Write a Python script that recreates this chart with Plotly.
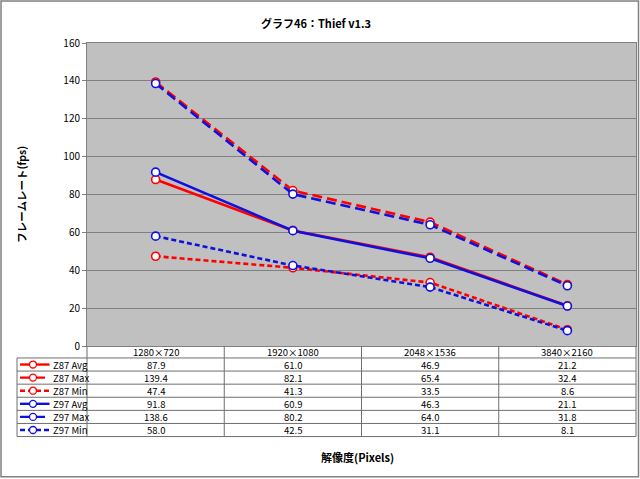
import plotly.graph_objects as go

categories = ["1280×720", "1920×1080", "2048×1536", "3840×2160"]
series_names = ["Z87 Avg", "Z87 Max", "Z87 Min", "Z97 Avg", "Z97 Max", "Z97 Min"]
z87_avg = [87.9, 61.0, 46.9, 21.2]
z87_max = [139.4, 82.1, 65.4, 32.4]
z87_min = [47.4, 41.3, 33.5, 8.6]
z97_avg = [91.8, 60.9, 46.3, 21.1]
z97_max = [138.6, 80.2, 64.0, 31.8]
z97_min = [58.0, 42.5, 31.1, 8.1]
series_values = [z87_avg, z87_max, z87_min, z97_avg, z97_max, z97_min]
title_text = "<b>グラフ46：Thief v1.3</b>"
y_title = "<b>フレームレート(fps)</b>"
x_title = "<b>解像度(Pixels)</b>"

RED = "#FF0000"
BLUE = "#1010DD"
colors = [RED, RED, RED, BLUE, BLUE, BLUE]
dashes = ["solid", "10px,5px", "5px,3px", "solid", "10px,5px", "5px,3px"]

W, H = 640, 479
L, R, T, B = 87, 636, 43, 346.5
FONT = "Noto Sans CJK JP"


def px(x):
    return (x - L) / (R - L)


def py(y):
    return (B - y) / (B - T)


fig = go.Figure()
for name, vals, c, d in zip(series_names, series_values, colors, dashes):
    fig.add_trace(go.Scatter(
        x=list(range(len(categories))), y=vals, name=name, mode="lines+markers",
        line=dict(color=c, width=2.6, dash=d),
        marker=dict(symbol="circle", size=8, color="white", line=dict(color=c, width=1.6)),
        cliponaxis=False,
    ))

shapes = []
annotations = []

# outer chart border
shapes.append(dict(type="rect", xref="paper", yref="paper", x0=px(1), x1=px(638.5),
                   y0=py(1), y1=py(477.5), line=dict(color="#808080", width=1.5), layer="below"))

# data table
row_h = (437.2 - 358.5) / 6
header_top, header_bot = B, 358.5
table_bot = header_bot + 6 * row_h
line_c = "#6f6f6f"
shapes.append(dict(type="rect", xref="paper", yref="paper", x0=px(17), x1=px(R),
                   y0=py(header_bot), y1=py(table_bot), fillcolor="white",
                   line=dict(width=0), layer="below"))
for i in range(7):
    yy = header_bot + i * row_h
    shapes.append(dict(type="line", xref="paper", yref="paper", x0=px(17), x1=px(R),
                       y0=py(yy), y1=py(yy), line=dict(color=line_c, width=1)))
ncat = len(categories)
for k in range(ncat + 1):
    xx = L + k * (R - L) / ncat
    shapes.append(dict(type="line", xref="paper", yref="paper", x0=px(xx), x1=px(xx),
                       y0=py(header_top), y1=py(table_bot), line=dict(color=line_c, width=1)))
shapes.append(dict(type="line", xref="paper", yref="paper", x0=px(17), x1=px(17),
                   y0=py(header_bot), y1=py(table_bot), line=dict(color=line_c, width=1)))

cell_font = dict(size=9.5, color="black", family=FONT)
for i, cat in enumerate(categories):
    annotations.append(dict(x=i, y=py((header_top + header_bot) / 2), xref="x", yref="paper",
                            xanchor="center", yanchor="middle",
                            text=cat, showarrow=False, font=cell_font))

for r, (name, vals, c, d) in enumerate(zip(series_names, series_values, colors, dashes)):
    yc = header_bot + (r + 0.5) * row_h
    for i, v in enumerate(vals):
        annotations.append(dict(x=i, y=py(yc), xref="x", yref="paper", text=f"{v:.1f}",
                                xanchor="center", yanchor="middle",
                                showarrow=False, font=cell_font))
    shapes.append(dict(type="line", xref="paper", yref="paper", x0=px(20), x1=px(49.5),
                       y0=py(yc), y1=py(yc), line=dict(color=c, width=2.4, dash=d)))
    shapes.append(dict(type="circle", xref="paper", yref="paper", x0=px(29.5), x1=px(36.5),
                       y0=py(yc - 3.5), y1=py(yc + 3.5), fillcolor="white",
                       line=dict(color=c, width=1.3)))
    annotations.append(dict(x=px(50.5), y=py(yc), xref="paper", yref="paper", text=name,
                            xanchor="left", yanchor="middle", showarrow=False, font=cell_font))

annotations.append(dict(x=px(316), y=py(23), xref="paper", yref="paper", text=title_text,
                        xanchor="center", yanchor="middle",
                        showarrow=False, font=dict(size=11, color="black", family=FONT)))
annotations.append(dict(x=px(22), y=py(195), xref="paper", yref="paper", text=y_title,
                        xanchor="center", yanchor="middle",
                        textangle=-90, showarrow=False, font=dict(size=10.5, color="black", family=FONT)))
annotations.append(dict(x=px(357), y=py(458), xref="paper", yref="paper", text=x_title,
                        xanchor="center", yanchor="middle",
                        showarrow=False, font=dict(size=11, color="black", family=FONT)))

fig.update_layout(
    width=W, height=H,
    margin=dict(l=L, r=W - R, t=T, b=H - B, pad=0),
    paper_bgcolor="white", plot_bgcolor="#C0C0C0",
    showlegend=False,
    font=dict(family=FONT, size=10, color="black"),
    shapes=shapes, annotations=annotations,
    xaxis=dict(range=[-0.5, ncat - 0.5], showticklabels=False, showgrid=False, zeroline=False,
               showline=True, mirror=True, linecolor="#808080", linewidth=1, ticks=""),
    yaxis=dict(range=[0, 160], dtick=20, showgrid=True, gridcolor="#808080", gridwidth=1,
               zeroline=False, showline=True, mirror=True, linecolor="#808080", linewidth=1,
               ticks="outside", ticklen=4, tickcolor="#808080",
               tickfont=dict(size=10, color="black", family=FONT)),
)

fig.write_html("out.html", config={"displayModeBar": False},
               post_script="document.body.style.margin='0';document.body.style.overflow='hidden';")
